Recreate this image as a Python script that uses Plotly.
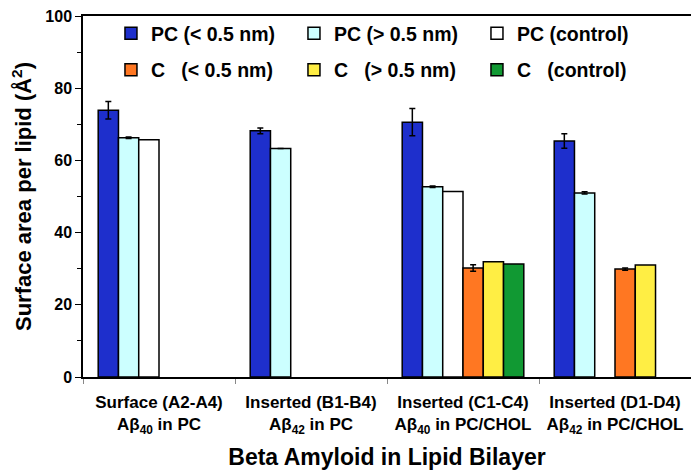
import plotly.graph_objects as go

categories = [
    "Surface (A2-A4)<br>Aβ<sub>40</sub> in PC",
    "Inserted (B1-B4)<br>Aβ<sub>42</sub> in PC",
    "Inserted (C1-C4)<br>Aβ<sub>40</sub> in PC/CHOL",
    "Inserted (D1-D4)<br>Aβ<sub>42</sub> in PC/CHOL",
]

series_names = [
    "PC (< 0.5 nm)",
    "PC (> 0.5 nm)",
    "PC (control)",
    "C\u00a0\u00a0\u00a0(< 0.5 nm)",
    "C\u00a0\u00a0\u00a0(> 0.5 nm)",
    "C\u00a0\u00a0\u00a0(control)",
]

pc_inner = [73.9, 68.2, 70.6, 65.4]
pc_inner_err = [2.4, 0.8, 3.8, 2.0]
pc_outer = [66.3, 63.3, 52.7, 51.0]
pc_outer_err = [0.2, 0.0, 0.2, 0.3]
pc_control = [65.7, None, 51.4, None]
c_inner = [None, None, 30.2, 29.9]
c_inner_err = [0, 0, 0.9, 0.3]
c_outer = [None, None, 31.9, 31.0]
c_control = [None, None, 31.3, None]

colors = ["#1e2fcc", "#ccffff", "#ffffff", "#ff7722", "#ffee44", "#119933"]

values = [pc_inner, pc_outer, pc_control, c_inner, c_outer, c_control]
errors = [pc_inner_err, pc_outer_err, None, c_inner_err, None, None]
# first three series in the top legend row, C series in the second row
legend_refs = ["legend", "legend", "legend", "legend2", "legend2", "legend2"]

FONT = "Arial, Liberation Sans, sans-serif"

fig = go.Figure()
for name, vals, err, col, leg in zip(series_names, values, errors, colors, legend_refs):
    fig.add_trace(go.Bar(
        name=name,
        x=categories,
        y=vals,
        legend=leg,
        marker=dict(color=col, line=dict(color="black", width=1.5)),
        error_y=dict(type="data", array=err, visible=err is not None,
                     color="black", thickness=1.5, width=3),
    ))

legend_style = dict(
    orientation="h",
    xanchor="left", yanchor="top",
    entrywidth=138,
    entrywidthmode="pixels",
    font=dict(size=19.5, family=FONT, weight="bold"),
    bgcolor="rgba(0,0,0,0)",
    itemwidth=30,
)

# page body adds ~8px offset, margins compensate for it
fig.update_layout(
    width=699,
    height=476,
    barmode="group",
    bargap=0.2,
    bargroupgap=0,
    plot_bgcolor="white",
    paper_bgcolor="white",
    margin=dict(l=75, r=16, t=6, b=107),
    font=dict(family=FONT, color="black", weight="bold"),
    legend=dict(x=0.046, y=1.005, **legend_style),
    legend2=dict(x=0.046, y=0.904, **legend_style),
    xaxis=dict(
        automargin=False,
        showline=True, linecolor="black", linewidth=1.5, mirror=True,
        ticks="outside", tickson="boundaries", ticklen=5, tickcolor="#888888",
        ticklabelstandoff=9,
        tickfont=dict(size=17, family=FONT, weight="bold"),
        title=dict(text="Beta Amyloid in Lipid Bilayer",
                   font=dict(size=23, family=FONT, weight="bold"), standoff=13),
    ),
    yaxis=dict(
        automargin=False,
        range=[0, 100],
        tickvals=[0, 20, 40, 60, 80, 100],
        showline=True, linecolor="black", linewidth=1.5, mirror=True,
        ticks="outside", ticklen=6, tickcolor="black",
        ticklabeloverflow="allow",
        minor=dict(tickvals=[10, 30, 50, 70, 90], ticks="outside", ticklen=4, tickcolor="black"),
        showgrid=False, zeroline=False,
        tickfont=dict(size=16, family=FONT, weight="bold"),
        title=dict(text="Surface area per lipid (Å<sup>2</sup>)",
                   font=dict(size=22, family=FONT, weight="bold"), standoff=22),
    ),
)

fig.write_html("out.html")
